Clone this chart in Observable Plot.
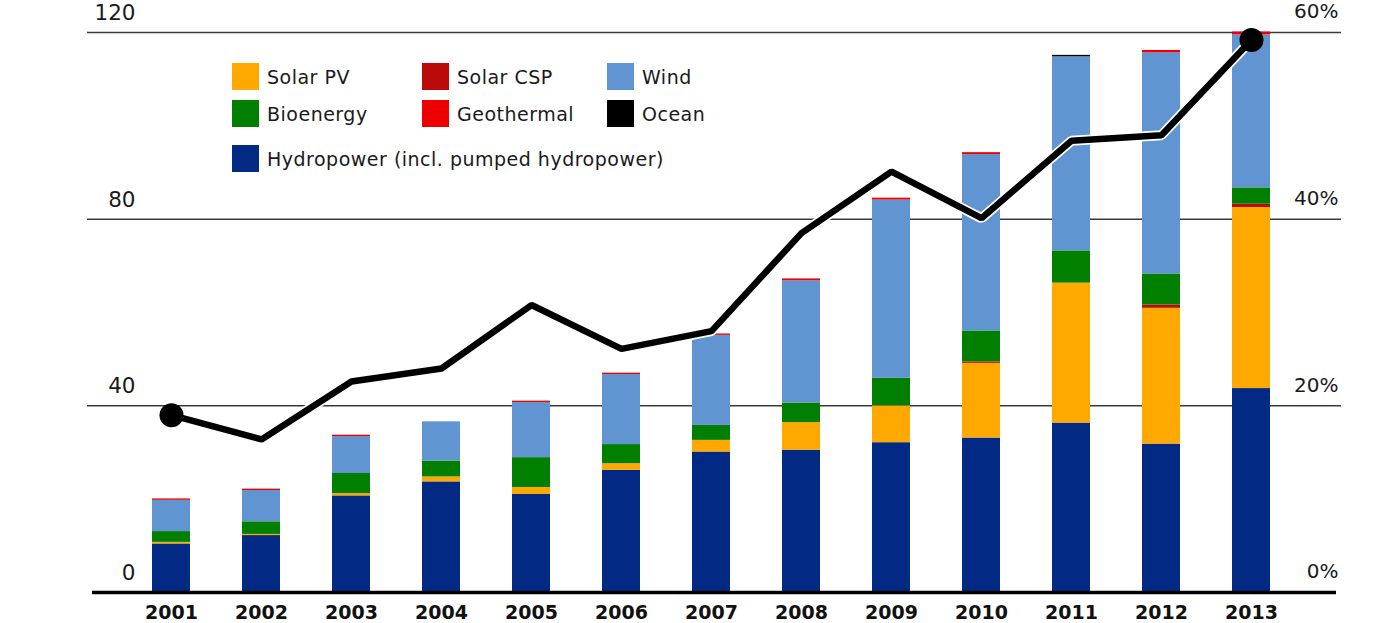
<!DOCTYPE html>
<html>
<head>
<meta charset="utf-8">
<script src="https://cdn.jsdelivr.net/npm/d3@7"></script>
<script src="https://cdn.jsdelivr.net/npm/@observablehq/plot@0.6"></script>
<style>
  html, body { margin: 0; padding: 0; background: #fff; }
  #wrap { position: relative; width: 1378px; height: 623px; font-family: "DejaVu Sans", sans-serif; }
  #legend { position: absolute; left: 0; top: 0; width: 1378px; height: 200px; pointer-events: none; }
  .item { position: absolute; display: flex; align-items: center; font-size: 19px; letter-spacing: 0.5px; color: #1a1a1a; white-space: nowrap; }
  .sw { width: 27px; height: 27px; margin-right: 8px; }
</style>
</head>
<body>
<div id="wrap"><div id="legend"></div></div>
<script>
// ---- data ----
const years = ["2001","2002","2003","2004","2005","2006","2007","2008","2009","2010","2011","2012","2013"];
const sources = ["Hydropower (incl. pumped hydropower)", "Solar PV", "Solar CSP", "Bioenergy", "Wind", "Geothermal", "Ocean"];
const colors  = ["#022a84", "#ffa800", "#bb0a0a", "#017f01", "#6195d1", "#ee0000", "#000000"];

const hydro    = [10.4, 12.2, 20.7, 23.7, 21.0, 26.2, 30.1, 30.5, 32.1, 33.1, 36.3, 31.8, 43.7];
const solarPV  = [0.35, 0.25, 0.5, 1.07, 1.5, 1.4, 2.5, 5.9, 7.9, 16.0, 30.0, 29.1, 38.8];
const solarCSP = [0, 0, 0, 0, 0, 0, 0, 0, 0, 0.3, 0, 0.7, 0.7];
const bio      = [2.3, 2.7, 4.3, 3.4, 6.4, 4.1, 3.2, 4.2, 5.9, 6.65, 6.9, 6.65, 3.5];
const wind     = [6.7, 6.7, 7.9, 8.4, 11.8, 15.0, 19.3, 26.2, 38.2, 37.8, 41.6, 47.4, 32.8];
const geo      = [0.3, 0.3, 0.3, 0, 0.3, 0.3, 0.3, 0.4, 0.4, 0.4, 0, 0.5, 0.6];
const ocean    = [0, 0, 0, 0, 0, 0, 0, 0, 0, 0, 0.3, 0, 0];

// share of renewables in total new capacity (%), right axis
const share    = [19.0, 16.4, 22.6, 24.0, 30.8, 26.1, 28.0, 38.5, 45.1, 40.1, 48.4, 49.0, 59.2];

const leftTicks  = [0, 40, 80, 120];
const gridTicks  = [40, 80, 120];
const rightTicks = [0, 20, 40, 60];   // percent

// ---- build tables ----
const seriesVals = [hydro, solarPV, solarCSP, bio, wind, geo, ocean];
const bars = [];
sources.forEach((s, i) => years.forEach((y, j) => bars.push({year: y, source: s, value: seriesVals[i][j]})));
const line = years.map((y, j) => ({year: y, share: share[j]}));
const ends = [line[0], line[line.length - 1]];

// secondary axis: 60% <-> 120
const pctToY = p => p * 2;

const chart = Plot.plot({
  width: 1378,
  height: 623,
  marginTop: 32,
  marginBottom: 31,
  marginLeft: 87,
  marginRight: 37,
  style: {fontFamily: "DejaVu Sans", background: "white", color: "#1a1a1a"},
  x: {type: "band", domain: years, paddingInner: 0.579, paddingOuter: 0.74, align: 0.475},
  y: {domain: [0, 120]},
  color: {domain: sources, range: colors},
  marks: [
    Plot.ruleY(gridTicks, {stroke: "#3a3a3a", strokeWidth: 1.5}),
    Plot.barY(bars, {x: "year", y: "value", fill: "source", order: sources}),
    Plot.ruleY([0], {stroke: "#000", strokeWidth: 3.5, insetLeft: 5, insetRight: 5}),
    Plot.line(line, {x: "year", y: d => pctToY(d.share), stroke: "white", strokeWidth: 10, strokeLinejoin: "miter"}),
    Plot.line(line, {x: "year", y: d => pctToY(d.share), stroke: "black", strokeWidth: 6.5, strokeLinejoin: "miter"}),
    Plot.dot(ends, {x: "year", y: d => pctToY(d.share), r: 12, fill: "black"}),
    Plot.axisX({anchor: "bottom", tickSize: 0, tickPadding: 13, fontSize: 19, fontWeight: "bold", label: null, fill: "#111"}),
    Plot.axisY(leftTicks, {anchor: "left", tickSize: 0, tickPadding: 0, dx: 48, dy: -19.5, fontSize: 21.5, textAnchor: "end", label: null}),
    Plot.axisY(rightTicks.map(pctToY), {anchor: "right", tickSize: 0, tickPadding: 0, dx: -3, dy: -20.5, fontSize: 20, textAnchor: "end", tickFormat: d => (d / 2) + "%", label: null})
  ]
});
document.getElementById("wrap").prepend(chart);

// ---- legend (HTML overlay) ----
const legendLayout = [
  {name: "Solar PV", left: 232, top: 63},
  {name: "Bioenergy", left: 232, top: 100},
  {name: "Hydropower (incl. pumped hydropower)", left: 232, top: 145},
  {name: "Solar CSP", left: 422, top: 63},
  {name: "Geothermal", left: 422, top: 100},
  {name: "Wind", left: 607, top: 63},
  {name: "Ocean", left: 607, top: 100}
];
const leg = document.getElementById("legend");
legendLayout.forEach(l => {
  const div = document.createElement("div");
  div.className = "item";
  div.style.left = l.left + "px";
  div.style.top = l.top + "px";
  const sw = document.createElement("span");
  sw.className = "sw";
  sw.style.background = colors[sources.indexOf(l.name)];
  const t = document.createElement("span");
  t.textContent = l.name;
  div.appendChild(sw);
  div.appendChild(t);
  leg.appendChild(div);
});
</script>
</body>
</html>
